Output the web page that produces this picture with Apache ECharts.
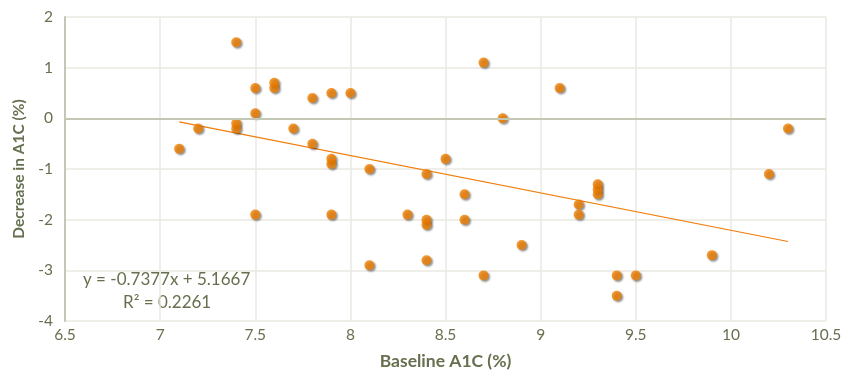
<!DOCTYPE html>
<html><head><meta charset="utf-8">
<script src="https://cdn.jsdelivr.net/npm/echarts@6/dist/echarts.min.js"></script>
<style>html,body{margin:0;padding:0;background:#fff}#c{width:856px;height:375px}</style>
</head><body><div id="c"></div>
<script>
const baselineA1C = [7.1,7.2,7.4,7.4,7.4,7.5,7.5,7.5,7.6,7.6,7.7,7.8,7.8,7.9,7.9,7.9,7.9,8.0,8.1,8.1,8.3,8.4,8.4,8.4,8.4,8.5,8.6,8.6,8.7,8.7,8.8,8.9,9.1,9.2,9.2,9.3,9.3,9.3,9.4,9.4,9.5,9.9,10.2,10.3];
const decreaseA1C = [-0.6,-0.2,1.5,-0.1,-0.2,0.6,0.1,-1.9,0.7,0.6,-0.2,0.4,-0.5,0.5,-0.8,-0.9,-1.9,0.5,-1.0,-2.9,-1.9,-1.1,-2.0,-2.1,-2.8,-0.8,-1.5,-2.0,1.1,-3.1,0.0,-2.5,0.6,-1.7,-1.9,-1.3,-1.4,-1.5,-3.1,-3.5,-3.1,-2.7,-1.1,-0.2];
const trendSlope = -0.7377, trendIntercept = 5.1667;
const trendRange = [7.1, 10.3];
const xTicks = {min: 6.5, max: 10.5, interval: 0.5};
const yTicks = {min: -4, max: 2, interval: 1};
const eqText = 'y = -0.7377x + 5.1667';
const r2Text = 'R² = 0.2261';

const txt = '#66704f';
const font = 'Lato, "Open Sans", sans-serif';
const pts = baselineA1C.map((x,i)=>[x, decreaseA1C[i]]);
const trend = trendRange.map(x=>[x, trendSlope*x + trendIntercept]);

const chart = echarts.init(document.getElementById('c'), null, {renderer:'canvas'});
chart.setOption({
  animation:false,
  grid:{left:65,right:30,top:17,bottom:53},
  xAxis:{type:'value',min:xTicks.min,max:xTicks.max,interval:xTicks.interval,
    name:'Baseline A1C (%)',nameLocation:'middle',nameGap:31,
    nameTextStyle:{color:txt,fontSize:17.5,fontWeight:'bold',fontFamily:font},
    axisLine:{show:false},axisTick:{show:false},
    axisLabel:{color:txt,fontSize:15.5,fontFamily:font,margin:6,formatter:v=>String(v)},
    splitLine:{show:true,lineStyle:{color:'#ebe9e2',width:1.5}}},
  yAxis:{type:'value',min:yTicks.min,max:yTicks.max,interval:yTicks.interval,
    name:'Decrease in A1C (%)',nameLocation:'middle',nameGap:38,
    nameTextStyle:{color:txt,fontSize:15.5,fontWeight:'bold',fontFamily:font},
    axisLine:{show:true,lineStyle:{color:'#c3c8b5',width:2}},axisTick:{show:false},
    axisLabel:{color:txt,fontSize:15.5,fontFamily:font,margin:12},
    splitLine:{show:true,lineStyle:{color:'#ebe9e2',width:1.5}}},
  graphic:[
    {type:'text',left:83,top:271,style:{text:eqText,fill:txt,font:'17px '+font}},
    {type:'text',left:123,top:294,style:{text:r2Text,fill:txt,font:'17px '+font}}
  ],
  series:[
    {type:'line',data:trend,symbol:'none',silent:true,z:3,
      lineStyle:{color:'#f07d0a',width:1.2},
      markLine:{silent:true,symbol:'none',label:{show:false},
        lineStyle:{color:'#c3c8b5',width:2,type:'solid'},data:[{yAxis:0}]}},
    {type:'scatter',data:pts,symbolSize:10,z:4,
      itemStyle:{color:'#f08000',shadowBlur:2,shadowOffsetX:1.5,shadowOffsetY:1.5,shadowColor:'rgba(0,0,0,0.55)'}}
  ]
});
</script></body></html>
